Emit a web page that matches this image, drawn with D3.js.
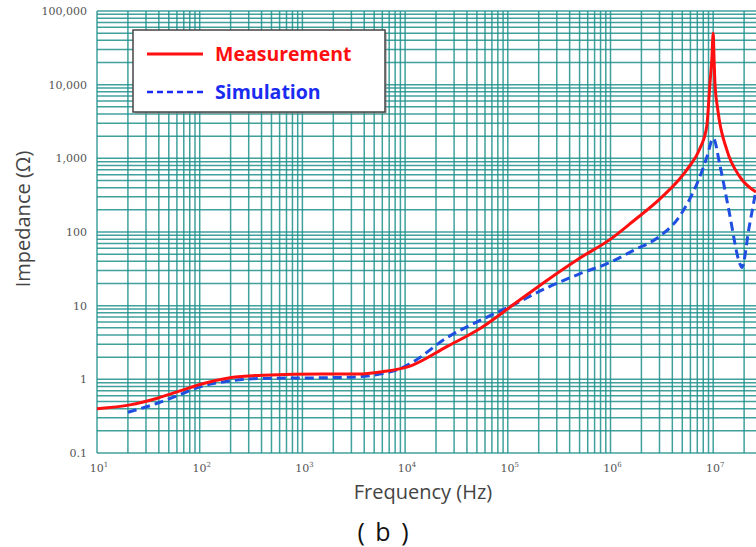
<!DOCTYPE html>
<html>
<head>
<meta charset="utf-8">
<script src="https://cdn.jsdelivr.net/npm/d3@7"></script>
<style>
  body { margin: 0; background: #fff; }
  svg { display: block; }
</style>
</head>
<body>
<div id="chart"></div>
<script>
// Measured impedance curve (Hz, Ohm)
var measFreq = [10, 21, 38, 69, 100, 197, 415, 1580, 3400, 6000, 11000, 25700, 53700,
  112000, 240000, 500000, 1000000, 1660000, 3100000, 5620000, 7400000, 8650000,
  9300000, 9700000, 10000000, 10200000, 10400000, 11100000, 13600000, 18200000, 26100000];
var measZ = [0.40, 0.45, 0.55, 0.72, 0.85, 1.05, 1.14, 1.18, 1.18, 1.27, 1.5, 2.8, 4.9,
  10.2, 22, 44, 80, 140, 290, 720, 1350, 2700,
  10500, 22000, 50000, 22000, 10500, 4500, 1290, 560, 350];

// Simulated impedance curve (Hz, Ohm)
var simFreq = [20, 38, 69, 100, 200, 415, 1580, 3400, 6000, 9000, 12000, 25700, 53700,
  112000, 240000, 500000, 1000000, 1660000, 3100000, 4500000, 5620000, 7400000,
  8700000, 10000000, 11700000, 14200000, 18200000, 19000000, 22400000, 26100000];
var simZ = [0.357, 0.47, 0.645, 0.79, 0.955, 1.03, 1.05, 1.08, 1.2, 1.4, 1.73, 3.7, 6.3,
  10.2, 17.5, 27, 39, 56, 90, 150, 245, 560,
  1050, 1870, 770, 198, 37, 33, 117, 370];

// Axis tick labels
var yTickVals = [0.1, 1, 10, 100, 1000, 10000, 100000];
var yTickText = ["0.1", "1", "10", "100", "1,000", "10,000", "100,000"];
var xTickExp = [1, 2, 3, 4, 5, 6, 7];

var legendNames = ["Measurement", "Simulation"];

var width = 756;
var height = 547;

// Plot area edges
var plotLeft = 97;
var plotTop = 11;
var plotBottom = 453;
var decadeX = 102.7;

var svg = d3
  .select("#chart")
  .append("svg")
  .attr("width", width)
  .attr("height", height);

// Log scales for both axes
var xScale = d3.scaleLog().domain([10, 1e8]).range([plotLeft, plotLeft + 7 * decadeX]);
var yScale = d3.scaleLog().domain([0.1, 100000]).range([plotBottom, plotTop]);

svg.append("clipPath")
  .attr("id", "plotClip")
  .append("rect")
  .attr("x", plotLeft - 2)
  .attr("y", plotTop - 2)
  .attr("width", width - plotLeft + 2)
  .attr("height", plotBottom - plotTop + 4);

var plot = svg.append("g").attr("clip-path", "url(#plotClip)");

// Grid lines: 1..9 in every decade
var gridColor = "#1f918c";
var xGrid = [];
for (var e = 1; e < 8; e++) {
  for (var k = 1; k < 10; k++) xGrid.push(k * Math.pow(10, e));
}
xGrid.push(1e8);
var yGrid = [];
for (var e2 = -1; e2 < 5; e2++) {
  for (var k2 = 1; k2 < 10; k2++) yGrid.push(k2 * Math.pow(10, e2));
}
yGrid.push(100000);

plot.selectAll(".vgrid")
  .data(xGrid)
  .enter()
  .append("line")
  .attr("x1", function(d) { return xScale(d); })
  .attr("x2", function(d) { return xScale(d); })
  .attr("y1", plotTop)
  .attr("y2", plotBottom)
  .attr("stroke", gridColor)
  .attr("stroke-width", 1.5)
  .attr("stroke-opacity", 0.85);

plot.selectAll(".hgrid")
  .data(yGrid)
  .enter()
  .append("line")
  .attr("x1", plotLeft)
  .attr("x2", width + 5)
  .attr("y1", function(d) { return yScale(d); })
  .attr("y2", function(d) { return yScale(d); })
  .attr("stroke", gridColor)
  .attr("stroke-width", 1.5)
  .attr("stroke-opacity", 0.85);

// Curves
var line = d3.line()
  .x(function(d) { return xScale(d[0]); })
  .y(function(d) { return yScale(d[1]); })
  .curve(d3.curveMonotoneX);

var simData = simFreq.map(function(f, i) { return [f, simZ[i]]; });
var measData = measFreq.map(function(f, i) { return [f, measZ[i]]; });

plot.append("path")
  .datum(simData)
  .attr("d", line)
  .attr("fill", "none")
  .attr("stroke", "#1f4fe0")
  .attr("stroke-width", 3)
  .attr("stroke-dasharray", "9,5");

plot.append("path")
  .datum(measData)
  .attr("d", line)
  .attr("fill", "none")
  .attr("stroke", "#ff1010")
  .attr("stroke-width", 3);

// Y tick labels
svg.selectAll(".ytick")
  .data(yTickVals)
  .enter()
  .append("text")
  .attr("x", 87)
  .attr("y", function(d) { return yScale(d) + 4; })
  .attr("text-anchor", "end")
  .attr("font-family", "DejaVu Serif")
  .attr("font-size", 11)
  .attr("fill", "#555")
  .text(function(d, i) { return yTickText[i]; });

// X tick labels, 10 with a superscript exponent
var xt = svg.selectAll(".xtick")
  .data(xTickExp)
  .enter()
  .append("text")
  .attr("x", function(d) { return xScale(Math.pow(10, d)) + 2; })
  .attr("y", 472)
  .attr("text-anchor", "middle")
  .attr("font-family", "DejaVu Serif")
  .attr("font-size", 11)
  .attr("fill", "#555");
xt.append("tspan").text("10");
xt.append("tspan")
  .attr("dy", -5)
  .attr("font-size", 7)
  .text(function(d) { return d; });

// Axis titles
svg.append("text")
  .attr("x", 423)
  .attr("y", 499)
  .attr("text-anchor", "middle")
  .attr("font-family", "Open Sans")
  .attr("font-size", 20)
  .attr("fill", "#444")
  .text("Frequency (Hz)");

svg.append("text")
  .attr("transform", "translate(30,219)rotate(-90)")
  .attr("text-anchor", "middle")
  .attr("font-family", "Open Sans")
  .attr("font-size", 20)
  .attr("fill", "#444")
  .text("Impedance (\u03A9)");

svg.append("text")
  .attr("x", 384)
  .attr("y", 541)
  .attr("text-anchor", "middle")
  .attr("font-family", "Open Sans")
  .attr("font-size", 25)
  .attr("letter-spacing", 2)
  .attr("fill", "#111")
  .text("( b )");

// Legend box
var legend = svg.append("g");
legend.append("rect")
  .attr("x", 135)
  .attr("y", 32)
  .attr("width", 252)
  .attr("height", 82)
  .attr("fill", "#888")
  .attr("opacity", 0.5);
legend.append("rect")
  .attr("x", 133)
  .attr("y", 30)
  .attr("width", 252)
  .attr("height", 82)
  .attr("fill", "#fff")
  .attr("stroke", "#444")
  .attr("stroke-width", 1.5);

legend.append("line")
  .attr("x1", 147).attr("x2", 203)
  .attr("y1", 54).attr("y2", 54)
  .attr("stroke", "#ff1010")
  .attr("stroke-width", 3);
legend.append("line")
  .attr("x1", 147).attr("x2", 203)
  .attr("y1", 92).attr("y2", 92)
  .attr("stroke", "#1a2cf0")
  .attr("stroke-width", 2.5)
  .attr("stroke-dasharray", "6,4");

legend.append("text")
  .attr("x", 215).attr("y", 61)
  .attr("font-family", "Open Sans")
  .attr("font-weight", "bold")
  .attr("font-size", 19.5)
  .attr("fill", "#ff1010")
  .text(legendNames[0]);
legend.append("text")
  .attr("x", 215).attr("y", 99)
  .attr("font-family", "Open Sans")
  .attr("font-weight", "bold")
  .attr("font-size", 19.5)
  .attr("fill", "#1a2cf0")
  .text(legendNames[1]);
</script>
</body>
</html>
